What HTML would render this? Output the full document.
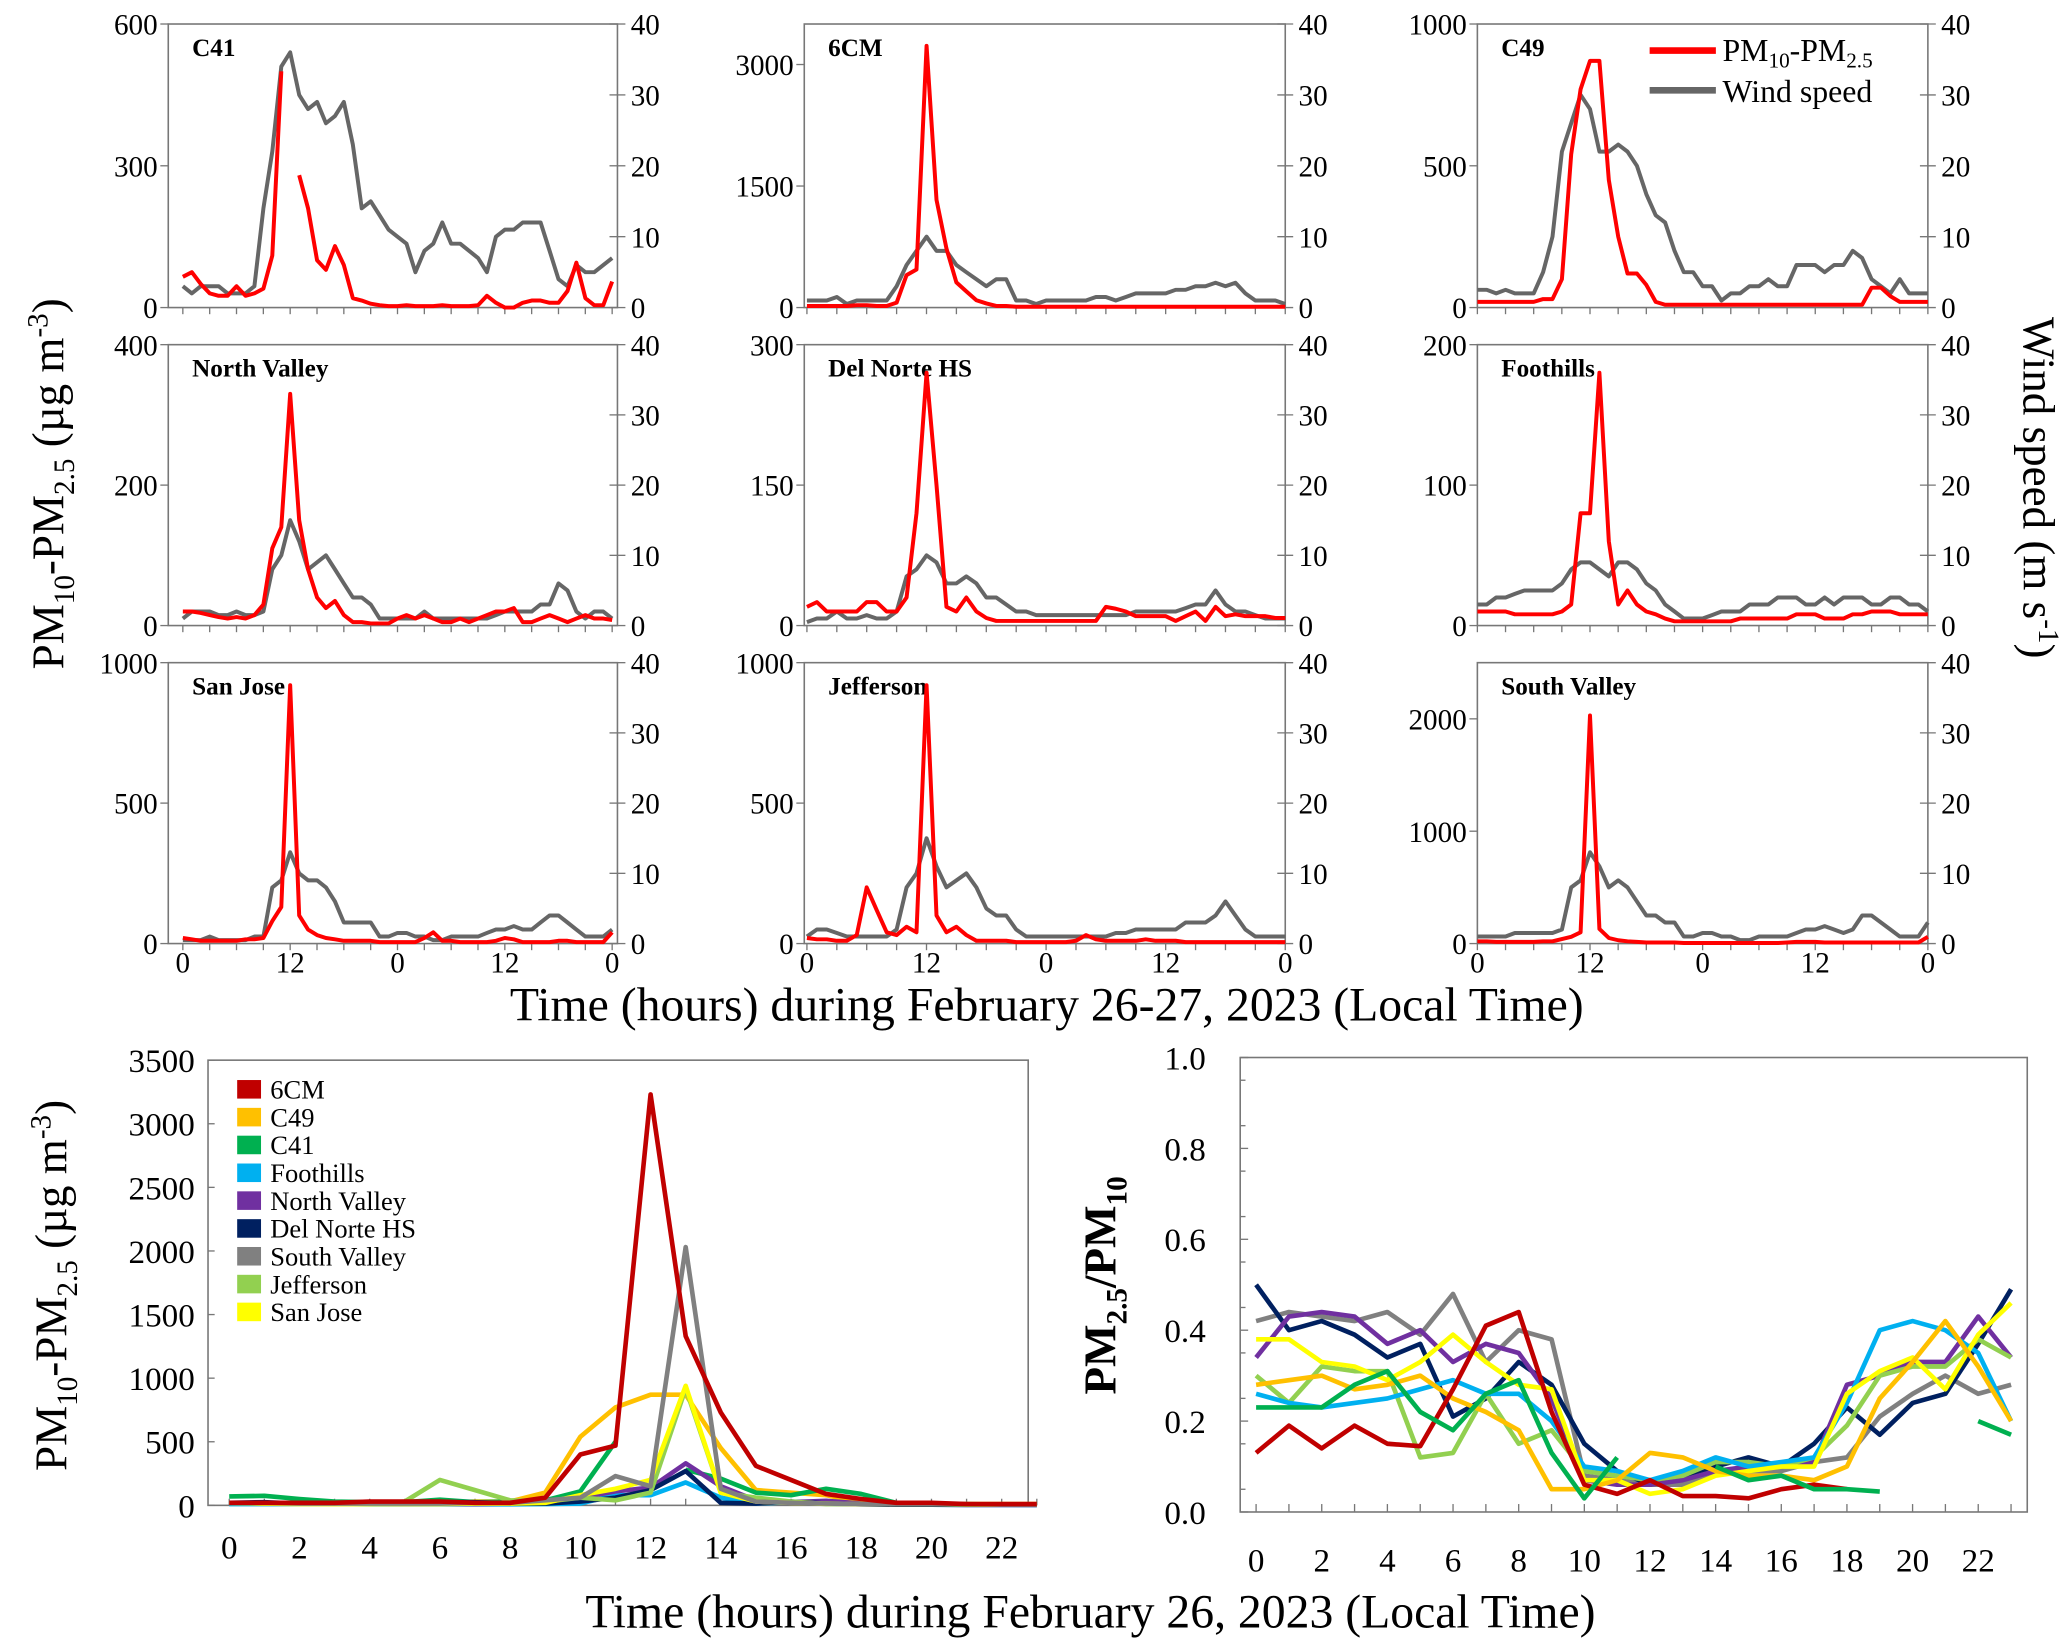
<!DOCTYPE html>
<html><head><meta charset="utf-8">
<style>
html,body{margin:0;padding:0;background:#fff;}
svg{display:block;}
svg text{font-family:"Liberation Serif",serif;}
</style></head>
<body>
<svg id="chart" width="2067" height="1642" viewBox="0 0 1560 1239" font-family="Liberation Serif, serif" xmlns="http://www.w3.org/2000/svg"></svg>
<script>
// ===== Panel data (hourly, Feb 26-27) =====
const panelNames = ["C41","6CM","C49","North Valley","Del Norte HS","Foothills","San Jose","Jefferson","South Valley"];
const panelMax = [600,3500,1000,400,300,200,1000,1000,2500];
const panelTicks = [[0,300,600],[0,1500,3000],[0,500,1000],[0,200,400],[0,150,300],[0,100,200],[0,500,1000],[0,500,1000],[0,1000,2000]];
const windTicks = [0,10,20,30,40];
const hourTickLabels = ["0","12","0","12","0"];
const coarseC41 = [65,75,50,30,25,25,45,25,30,40,110,500,null,280,210,100,80,130,90,20,15,8,5,3,3,5,3,3,3,5,3,3,3,5,25,10,0,0,10,15,15,10,10,35,95,20,5,5,55];
const coarse6CM = [20,20,20,20,20,30,30,20,20,60,400,470,3230,1330,730,310,200,90,50,20,20,10,10,10,10,10,10,10,10,10,10,10,10,10,10,10,10,10,10,10,10,10,10,10,10,10,10,10,10];
const coarseC49 = [20,20,20,20,20,20,20,30,30,100,540,770,870,870,450,250,120,120,80,20,10,10,10,10,10,10,10,10,10,10,10,10,10,10,10,10,10,10,10,10,10,10,70,70,40,20,20,20,20];
const coarseNV = [20,20,18,15,12,10,12,10,15,30,110,140,330,150,80,40,25,35,15,5,5,3,3,3,10,15,10,15,10,5,5,10,5,10,15,20,20,25,5,5,10,15,10,5,10,15,10,10,8];
const coarseDN = [20,25,15,15,15,15,25,25,15,15,30,120,270,150,20,15,30,15,8,5,5,5,5,5,5,5,5,5,5,5,20,18,15,10,10,10,10,5,10,15,5,20,10,12,10,10,10,8,8];
const coarseFH = [10,10,10,10,8,8,8,8,8,10,15,80,80,180,60,15,25,15,10,8,5,3,3,3,3,3,3,3,5,5,5,5,5,5,8,8,8,5,5,5,8,8,10,10,10,8,8,8,8];
const coarseSJ = [20,15,10,10,10,10,10,15,15,20,80,130,920,100,50,30,20,15,10,10,10,10,5,5,5,5,5,20,40,10,10,5,5,5,5,10,20,15,5,5,5,5,10,10,5,5,5,5,40];
const coarseJF = [20,15,15,10,10,30,200,120,40,30,60,40,920,100,40,60,30,10,10,10,10,5,5,5,5,5,5,10,30,15,10,10,10,10,15,10,10,10,5,5,5,5,5,5,5,5,5,5,5];
const coarseSV = [20,20,15,15,15,15,15,20,20,40,60,100,2030,130,50,30,20,15,10,10,10,10,5,5,5,5,5,5,5,5,5,5,5,10,15,15,15,10,10,10,10,10,10,10,10,10,10,10,60];
const windC41 = [3,2,3,3,3,2,2,2,3,14,22,34,36,30,28,29,26,27,29,23,14,15,13,11,10,9,5,8,9,12,9,9,8,7,5,10,11,11,12,12,12,8,4,3,6,5,5,6,7];
const wind6CM = [1,1,1,1.5,0.5,1,1,1,1,3,6,8,10,8,8,6,5,4,3,4,4,1,1,0.5,1,1,1,1,1,1.5,1.5,1,1.5,2,2,2,2,2.5,2.5,3,3,3.5,3,3.5,2,1,1,1,0.5];
const windC49 = [2.5,2.5,2,2.5,2,2,2,5,10,22,26,30,28,22,22,23,22,20,16,13,12,8,5,5,3,3,1,2,2,3,3,4,3,3,6,6,6,5,6,6,8,7,4,3,2,4,2,2,2];
const windNV = [1,2,2,2,1.5,1.5,2,1.5,1.5,2,8,10,15,12,8,9,10,8,6,4,4,3,1,1,1,1,1,2,1,1,1,1,1,1,1,1.5,2,2,2,2,3,3,6,5,2,1,2,2,1];
const windDN = [0.5,1,1,2,1,1,1.5,1,1,2,7,8,10,9,6,6,7,6,4,4,3,2,2,1.5,1.5,1.5,1.5,1.5,1.5,1.5,1.5,1.5,1.5,2,2,2,2,2,2.5,3,3,5,3,2,2,1.5,1,1,1];
const windFH = [3,3,4,4,4.5,5,5,5,5,6,8,9,9,8,7,9,9,8,6,5,3,2,1,1,1,1.5,2,2,2,3,3,3,4,4,4,3,3,4,3,4,4,4,3,3,4,4,3,3,2];
const windSJ = [0.5,0.5,0.5,1,0.5,0.5,0.5,0.5,1,1,8,9,13,10,9,9,8,6,3,3,3,3,1,1,1.5,1.5,1,1,0.5,0.5,1,1,1,1,1.5,2,2,2.5,2,2,3,4,4,3,2,1,1,1,2];
const windJF = [1,2,2,1.5,1,1,1,1,1,2,8,10,15,11,8,9,10,8,5,4,4,2,1,1,1,1,1,1,1,1,1,1.5,1.5,2,2,2,2,2,3,3,3,4,6,4,2,1,1,1,1];
const windSV = [1,1,1,1,1.5,1.5,1.5,1.5,1.5,2,8,9,13,11,8,9,8,6,4,4,3,3,1,1,1.5,1.5,1,1,0.5,0.5,1,1,1,1,1.5,2,2,2.5,2,1.5,2,4,4,3,2,1,1,1,3];
const coarseAll = [coarseC41,coarse6CM,coarseC49,coarseNV,coarseDN,coarseFH,coarseSJ,coarseJF,coarseSV];
const windAll = [windC41,wind6CM,windC49,windNV,windDN,windFH,windSJ,windJF,windSV];

// ===== Bottom-left: coarse PM, Feb 26 =====
const siteNames = ["6CM","C49","C41","Foothills","North Valley","Del Norte HS","South Valley","Jefferson","San Jose"];
const siteColors = ["#c00000","#ffc000","#00b050","#00b0f0","#7030a0","#002060","#808080","#92d050","#ffff00"];
const pmTicks = [0,500,1000,1500,2000,2500,3000,3500];
const dayTicks = [0,2,4,6,8,10,12,14,16,18,20,22];
const day6CM = [20,20,20,20,30,30,30,20,20,60,400,470,3230,1330,730,310,200,90,50,20,20,10,10,10];
const dayC49 = [20,20,20,20,20,20,20,30,30,100,540,770,870,870,450,120,100,80,20,10,10,10,10,10];
const dayC41 = [70,75,50,30,25,25,45,25,30,40,110,500,null,280,210,100,80,130,90,20,15,8,5,3];
const dayFH = [10,10,10,10,8,8,8,8,8,10,15,80,80,180,60,15,25,15,10,8,5,3,3,3];
const dayNV = [20,20,18,15,12,10,12,10,15,30,60,110,140,330,150,40,25,35,15,5,5,3,3,3];
const dayDN = [20,25,15,15,15,15,25,25,15,15,30,60,120,270,20,15,30,15,8,5,5,5,5,5];
const daySV = [20,20,15,15,15,15,15,20,20,40,60,230,150,2030,130,30,20,15,10,10,10,10,5,5];
const dayJF = [20,15,15,10,10,30,200,120,40,30,60,40,100,920,100,60,30,10,10,10,10,5,5,5];
const daySJ = [20,15,10,10,10,10,10,15,15,20,80,130,200,940,100,30,20,15,10,10,10,10,5,5];
const dayAll = [day6CM,dayC49,dayC41,dayFH,dayNV,dayDN,daySV,dayJF,daySJ];
// ===== Bottom-right: PM2.5/PM10 ratio, Feb 26 =====
const ratioTicks = ["0.0","0.2","0.4","0.6","0.8","1.0"];
const ratio6CM = [.13,.19,.14,.19,.15,.145,.27,.41,.44,.22,.06,.04,.07,.035,.035,.03,.05,.06,.05,null,null,null,null,null];
const ratioC49 = [.28,.29,.30,.27,.28,.30,.25,.22,.18,.05,.05,.07,.13,.12,.09,.08,.08,.07,.10,.25,.33,.42,.32,.20];
const ratioC41 = [.23,.23,.23,.28,.31,.22,.18,.26,.29,.13,.03,.12,null,null,.10,.07,.08,.05,.05,.045,null,null,.20,.17];
const ratioFH = [.26,.24,.23,.24,.25,.27,.29,.26,.26,.20,.10,.09,.07,.09,.12,.10,.11,.12,.24,.40,.42,.40,.35,.20];
const ratioNV = [.34,.43,.44,.43,.37,.40,.33,.37,.35,.25,.07,.06,.06,.07,.09,.10,.10,.11,.28,.30,.33,.33,.43,.34];
const ratioDN = [.50,.40,.42,.39,.34,.37,.21,.25,.33,.28,.15,.09,.06,.08,.10,.12,.10,.15,.23,.17,.24,.26,.37,.49];
const ratioSV = [.42,.44,.43,.42,.44,.39,.48,.33,.40,.38,.08,.07,.06,.06,.09,.09,.09,.11,.12,.21,.26,.30,.26,.28];
const ratioJF = [.30,.24,.32,.31,.31,.12,.13,.26,.15,.18,.09,.08,.07,.08,.11,.11,.10,.12,.19,.30,.32,.32,.38,.34];
const ratioSJ = [.38,.38,.33,.32,.29,.33,.39,.33,.28,.27,.07,.07,.04,.05,.08,.09,.10,.10,.26,.31,.34,.27,.39,.46];
const ratioAll = [ratio6CM,ratioC49,ratioC41,ratioFH,ratioNV,ratioDN,ratioSV,ratioJF,ratioSJ];

const NS="http://www.w3.org/2000/svg";
const svg=document.getElementById('chart');
const FF='Liberation Serif, serif';
function el(tag,attrs,parent){const e=document.createElementNS(NS,tag);for(const k in attrs)e.setAttribute(k,attrs[k]);(parent||svg).appendChild(e);return e;}
function txt(x,y,s,size,anchor,parent,weight){const t=el('text',{x:x,y:y,'font-size':size,'font-family':FF,'text-anchor':anchor||'middle','font-weight':weight||'normal'},parent);t.textContent=s;return t;}
function pathFrom(vals,fx,fy){let d='',pen=false;vals.forEach((v,i)=>{if(v===null){pen=false;return;}d+=(pen?'L':'M')+fx(i).toFixed(1)+','+fy(v).toFixed(1);pen=true;});return d;}

const cols=[{l:127,r:466,x0:138,x48:462},{l:607,r:970,x0:609,x48:970},{l:1115,r:1455,x0:1115,x48:1455}];
const rows=[{t:18,b:232},{t:260,b:472},{t:500,b:712}];
for(let p=0;p<9;p++){
  const c=cols[p%3],r=rows[Math.floor(p/3)];
  const g=el('g',{});
  
  
  el('rect',{x:c.l,y:r.t,width:c.r-c.l,height:r.b-r.t,fill:'none',stroke:'#777','stroke-width':1.2},g);
  const fy=v=>r.b-(v/panelMax[p])*(r.b-r.t);
  const fw=v=>r.b-(v/40)*(r.b-r.t);
  const fx=i=>c.x0+(c.x48-c.x0)*i/48;
  panelTicks[p].forEach(v=>{const y=fy(v);el('line',{x1:c.l-6,x2:c.l,y1:y,y2:y,stroke:'#777'},g);txt(c.l-8,y+8,String(v),22,'end',g);});
  windTicks.forEach(v=>{const y=fw(v);el('line',{x1:c.r-6,x2:c.r+6,y1:y,y2:y,stroke:'#777'},g);txt(c.r+10,y+8,String(v),22,'start',g);});
  for(let h=0;h<=48;h+=3){const x=fx(h);el('line',{x1:x,x2:x,y1:r.b,y2:r.b+5,stroke:'#777'},g);}
  if(p>=6) hourTickLabels.forEach((s,i)=>txt(fx(i*12),r.b+22,s,22,'middle',g));
  txt(c.l+18,r.t+24,panelNames[p],19,'start',g,'bold');
  const w=el('path',{d:pathFrom(windAll[p],fx,fw),fill:'none',stroke:'#666','stroke-width':3,'stroke-linejoin':'round'},g);
  
  
  const cl=el('path',{d:pathFrom(coarseAll[p],fx,fy),fill:'none',stroke:'#ff0000','stroke-width':3,'stroke-linejoin':'round'},g);
  
  
}
const lg=el('g',{});


el('line',{x1:1245,x2:1295,y1:38,y2:38,stroke:'#ff0000','stroke-width':5},lg);
const lt=txt(1300,46,'PM',24,'start',lg);
lt.innerHTML='PM<tspan font-size="16" dy="5">10</tspan><tspan dy="-5">-PM</tspan><tspan font-size="16" dy="5">2.5</tspan>';
el('line',{x1:1245,x2:1295,y1:68,y2:68,stroke:'#666','stroke-width':5},lg);
txt(1300,77,'Wind speed',24,'start',lg);

const yt=el('text',{transform:'translate(48,365) rotate(-90)','font-size':34,'font-family':FF,'text-anchor':'middle'});


yt.innerHTML='PM<tspan font-size="22" dy="8">10</tspan><tspan dy="-8">-PM</tspan><tspan font-size="22" dy="8">2.5</tspan><tspan dy="-8"> (µg m</tspan><tspan font-size="22" dy="-12">-3</tspan><tspan dy="12">)</tspan>';
const wt=el('text',{transform:'translate(1527,368) rotate(90)','font-size':34,'font-family':FF,'text-anchor':'middle'});


wt.innerHTML='Wind speed (m s<tspan font-size="22" dy="-12">-1</tspan><tspan dy="12">)</tspan>';
const xt=txt(790,770,'Time (hours) during February 26-27, 2023 (Local Time)',36,'middle');



{
  const g=el('g',{});
  
  
  const L=157,R=776,T=800,B=1136;
  el('rect',{x:L,y:T,width:R-L,height:B-T,fill:'none',stroke:'#777','stroke-width':1.2},g);
  const fy=v=>B-v/3500*(B-T), fx=h=>173+h*(756-173)/22;
  pmTicks.forEach(v=>{const y=fy(v);el('line',{x1:L,x2:L+5,y1:y,y2:y,stroke:'#777'},g);txt(L-10,y+9,String(v),25,'end',g);});
  dayTicks.forEach(h=>txt(fx(h),1176,String(h),25,'middle',g));
  for(let h=0;h<24;h++){el('line',{x1:fx(h),x2:fx(h),y1:B,y2:B-5,stroke:'#777'},g);}
  const order=[1,2,3,4,5,7,8,6,0];
  order.forEach(k=>{const s=el('path',{d:pathFrom(dayAll[k],fx,fy),fill:'none',stroke:siteColors[k],'stroke-width':3.5,'stroke-linejoin':'round'},g);
    
    });
  siteNames.forEach((n,i)=>{const y=822+i*21;
    const it=el('g',{},g);
    
    
    el('rect',{x:179,y:y-7,width:18,height:14,fill:siteColors[i]},it);txt(204,y+7,n,20,'start',it);});
  const t=el('text',{transform:'translate(50,970) rotate(-90)','font-size':34,'font-family':FF,'text-anchor':'middle'},g);
  t.innerHTML='PM<tspan font-size="22" dy="8">10</tspan><tspan dy="-8">-PM</tspan><tspan font-size="22" dy="8">2.5</tspan><tspan dy="-8"> (µg m</tspan><tspan font-size="22" dy="-12">-3</tspan><tspan dy="12">)</tspan>';
}
{
  const g=el('g',{});
  
  
  const L=936,R=1530,T=798,B=1141;
  el('rect',{x:L,y:T,width:R-L,height:B-T,fill:'none',stroke:'#777','stroke-width':1.2},g);
  const fy=v=>B-v*(B-T), fx=h=>948+h*(1493-948)/22;
  ratioTicks.forEach(s=>{const y=fy(parseFloat(s));el('line',{x1:L,x2:L+6,y1:y,y2:y,stroke:'#777'},g);txt(L-26,y+9,s,25,'end',g);});
  for(let v=0.05;v<1;v+=0.1){const y=fy(v);el('line',{x1:L,x2:L+4,y1:y,y2:y,stroke:'#777'},g);}
  dayTicks.forEach(h=>txt(fx(h),1186,String(h),25,'middle',g));
  for(let h=0;h<24;h++){el('line',{x1:fx(h),x2:fx(h),y1:B,y2:B-6,stroke:'#777'},g);}
  const order=[6,5,4,7,3,8,1,0,2];
  order.forEach(k=>{const s=el('path',{d:pathFrom(ratioAll[k],fx,fy),fill:'none',stroke:siteColors[k],'stroke-width':3.5,'stroke-linejoin':'round'},g);
    
    });
  const t=el('text',{transform:'translate(842,970) rotate(-90)','font-size':34,'font-family':FF,'text-anchor':'middle','font-weight':'bold'},g);
  t.innerHTML='PM<tspan font-size="22" dy="8">2.5</tspan><tspan dy="-8">/PM</tspan><tspan font-size="22" dy="8">10</tspan>';
}
const xb=txt(823,1228,'Time (hours) during February 26, 2023 (Local Time)',36,'middle');


</script>
</body></html>
